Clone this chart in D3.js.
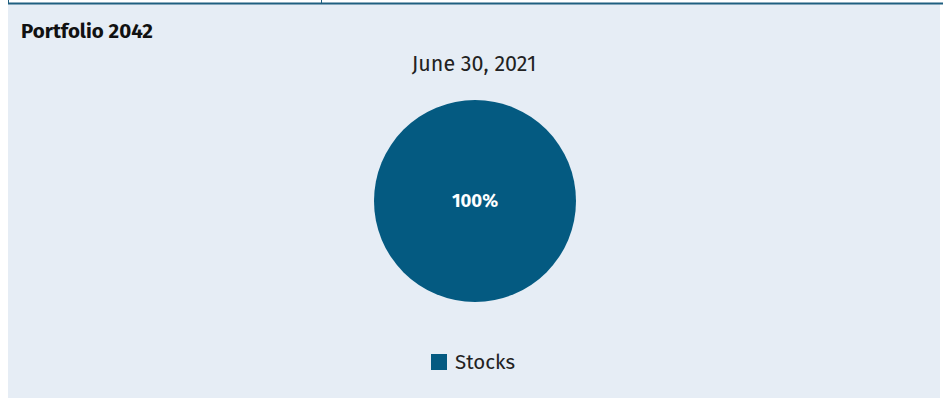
<html>
<head>
<script src="https://cdnjs.cloudflare.com/ajax/libs/d3/7.8.5/d3.min.js"></script>
<style>
  body { margin: 0; background: #fff; }
  svg { display: block; font-family: "Fira Sans", "Noto Sans", sans-serif; }
</style>
</head>
<body>
<svg id="chart" width="943" height="398"></svg>
<script>
const WIDTH = 943
const HEIGHT = 398

const categories = ["Stocks"]
const values = [100]
const colors = ["#045a81"]
const title = "Portfolio 2042"
const subtitle = "June 30, 2021"

const svg = d3.select("#chart")

// panel
svg.append("rect")
  .attr("x", 8).attr("y", 4)
  .attr("width", 932).attr("height", HEIGHT - 4)
  .attr("fill", "#e6edf5")

// tab outline on top
svg.append("line")
  .attr("x1", 8).attr("x2", WIDTH).attr("y1", 3.5).attr("y2", 3.5)
  .attr("stroke", "#1f5f80").attr("stroke-width", 2)
svg.append("line")
  .attr("x1", 8.5).attr("x2", 8.5).attr("y1", 0).attr("y2", 4)
  .attr("stroke", "#1f5f80").attr("stroke-width", 1)
svg.append("line")
  .attr("x1", 321.5).attr("x2", 321.5).attr("y1", 0).attr("y2", 4)
  .attr("stroke", "#1f5f80").attr("stroke-width", 1)

svg.append("text")
  .attr("x", 21).attr("y", 38)
  .attr("font-size", 20.5).attr("font-weight", "bold")
  .attr("fill", "#111")
  .text(title)

svg.append("text")
  .attr("x", 474).attr("y", 71)
  .attr("text-anchor", "middle")
  .attr("font-size", 21.5)
  .attr("fill", "#222")
  .text(subtitle)

const color = d3.scaleOrdinal().domain(categories).range(colors)
const pie = d3.pie().sort(null)
const arc = d3.arc().innerRadius(0).outerRadius(101)
const total = d3.sum(values)

const g = svg.append("g").attr("transform", "translate(475,201)")
const slices = g.selectAll("g.slice")
  .data(pie(values))
  .join("g").attr("class", "slice")

slices.append("path")
  .attr("d", arc)
  .attr("fill", (d, i) => color(categories[i]))

slices.append("text")
  .attr("transform", d => d.endAngle - d.startAngle >= 2 * Math.PI - 1e-6 ? "translate(0,0)" : `translate(${arc.centroid(d)})`)
  .attr("text-anchor", "middle")
  .attr("dy", "0.35em")
  .attr("font-size", 18.5).attr("font-weight", "bold")
  .attr("fill", "#fff")
  .text(d => Math.round(d.data / total * 100) + "%")

// legend
const legend = svg.append("g").attr("transform", "translate(431,354)")
const items = legend.selectAll("g").data(categories).join("g")
items.append("rect")
  .attr("width", 16).attr("height", 16)
  .attr("fill", d => color(d))
items.append("text")
  .attr("x", 24).attr("y", 15)
  .attr("font-size", 20.5)
  .attr("fill", "#222")
  .text(d => d)
</script>
</body>
</html>
